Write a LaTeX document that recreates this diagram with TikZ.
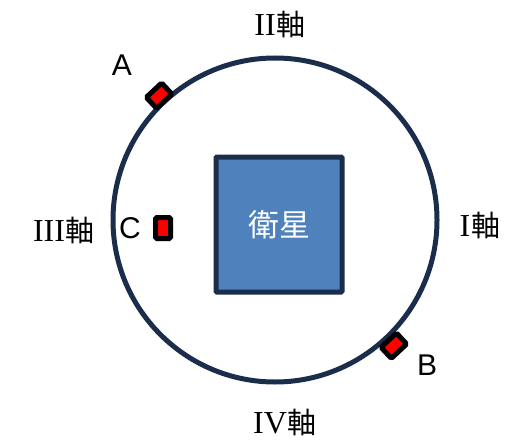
\documentclass[tikz,border=0pt]{standalone}
\usepackage{fontspec}
\setmainfont{Liberation Sans}
\newfontfamily\jpfont{Noto Sans CJK JP}
\newfontfamily\romfont{Liberation Serif}
\usetikzlibrary{positioning,calc}
\definecolor{navy}{HTML}{1A2E4C}
\definecolor{satblue}{HTML}{4F81BD}
\definecolor{markred}{HTML}{FF0000}
\newcommand{\axislabel}[1]{{\romfont\fontsize{32}{32}\selectfont #1}\kern1pt{\jpfont 軸}}

\begin{document}
\begin{tikzpicture}[x=1pt,y=1pt,
  marker/.style={draw=black,fill=markred,line width=5,minimum width=15,minimum height=21,inner sep=0,rounded corners=1.5},
  axislbl/.style={font=\jpfont\fontsize{29}{29}\selectfont,inner sep=0},
  letter/.style={font=\fontsize{30}{30}\selectfont,inner sep=0}]
  \useasboundingbox (0,0) rectangle (529,440);
  \node[draw=navy,line width=5,circle,minimum size=324,inner sep=0] (orbit) at (275,220) {};
  \node[draw=navy,fill=satblue,line width=5,rounded corners=1,minimum width=126,minimum height=135,
        text=white,font=\jpfont\fontsize{31}{31}\selectfont] (sat) at (279,215.5) {衛星};
  % markers on the orbit
  \node[marker,rotate=-47] (mA) at ($(orbit.center)+(133:170)$) {};
  \node[marker,rotate=-47] (mB) at ($(orbit.center)+(-46.6:173)$) {};
  \node[marker] (mC) at (163,212) {};
  \node[letter] (lA) at (122,375) {A};
  \node[letter] (lB) at (427,75) {B};
  \node[letter] (lC) at (130,212) {C};
  % axis names
  \node[axislbl] (ax1) at (480,215) {\axislabel{I}};
  \node[axislbl] (ax2) at (280,416) {\axislabel{II}};
  \node[axislbl] (ax3) at (64,210) {\axislabel{III}};
  \node[axislbl] (ax4) at (285,18) {\axislabel{IV}};
\end{tikzpicture}
\end{document}
